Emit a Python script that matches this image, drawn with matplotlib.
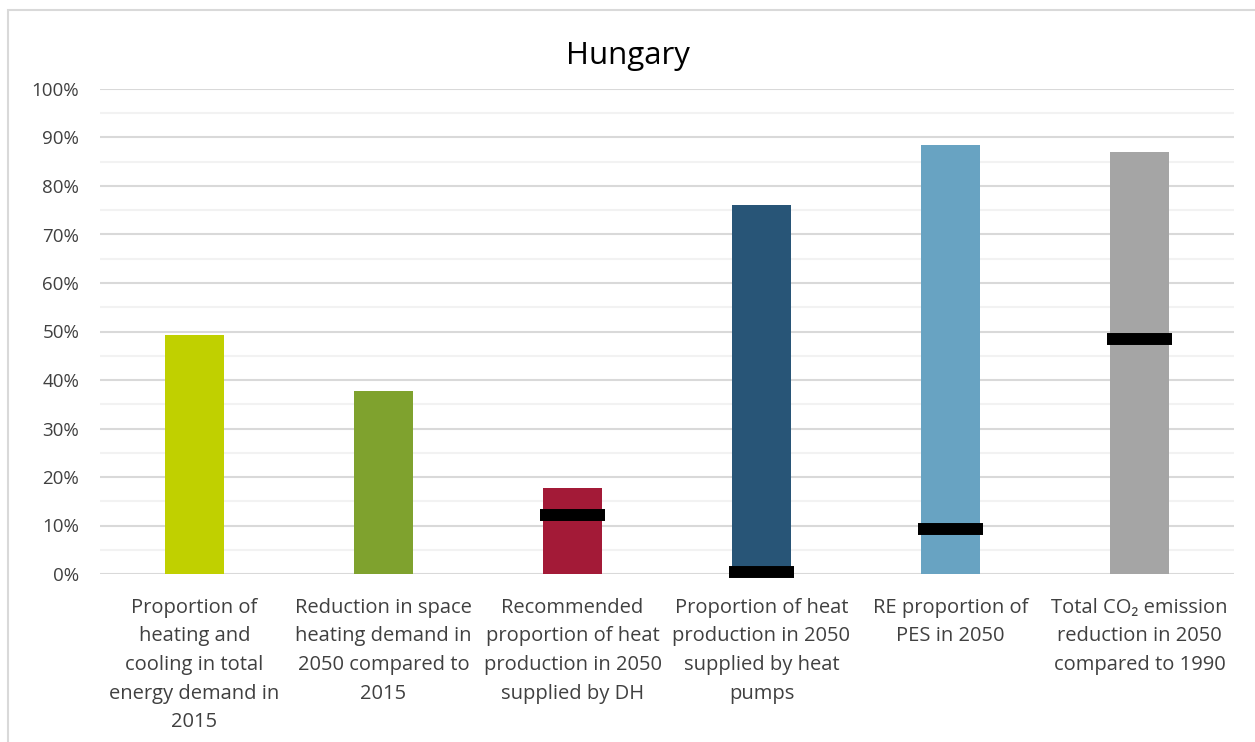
import numpy as np
import matplotlib.pyplot as plt
from matplotlib.patches import Rectangle

plt.rcParams['font.family'] = ['Open Sans', 'DejaVu Sans']

categories = [
    'Proportion of\nheating and\ncooling in total\nenergy demand in\n2015',
    'Reduction in space\nheating demand in\n2050 compared to\n2015',
    'Recommended\nproportion of heat\nproduction in 2050\nsupplied by DH',
    'Proportion of heat\nproduction in 2050\nsupplied by heat\npumps',
    'RE proportion of\nPES in 2050',
    'Total CO₂ emission\nreduction in 2050\ncompared to 1990',
]
values = [49.3, 37.7, 17.7, 76.1, 88.5, 87.0]
targets = [np.nan, np.nan, 12.2, 0.5, 9.3, 48.4]
colors = ['#C0D000', '#7FA22E', '#A31A37', '#285577', '#68A3C2', '#A5A5A5']

fig = plt.figure(figsize=(12.55, 7.42), dpi=100)
ax = fig.add_axes([100 / 1255, 1 - 574 / 742, 1134 / 1255, (574 - 89) / 742])

# chart frame (only left/top visible in the reference)
fig.patches.append(Rectangle((8 / 1255, -0.1), 1.2, 1 - 10 / 742 + 0.1,
                             transform=fig.transFigure, fill=False,
                             edgecolor='#D9D9D9', linewidth=1.5))

x = np.arange(len(categories))
ax.bar(x, values, width=0.31, color=colors, zorder=3)
t = np.array(targets)
ok = ~np.isnan(t)
ax.hlines(t[ok], x[ok] - 0.17, x[ok] + 0.17, colors='black', linewidth=8.6,
          zorder=4, clip_on=False)

ax.set_xlim(-0.5, len(categories) - 0.5)
ax.set_ylim(0, 100)
ax.set_yticks(np.arange(0, 101, 10))
ax.set_yticks(np.arange(5, 100, 10), minor=True)
ax.set_yticklabels([f'{v}%' for v in range(0, 101, 10)])
ax.grid(axis='y', which='major', color='#D9D9D9', linewidth=1.5, zorder=0)
ax.grid(axis='y', which='minor', color='#F2F2F2', linewidth=1.5, zorder=0)
ax.set_axisbelow(True)
for s in ax.spines.values():
    s.set_visible(False)
ax.tick_params(axis='y', which='both', length=0, pad=15, labelsize=13.5, labelcolor='#404040')
ax.tick_params(axis='x', length=0, pad=17)
ax.set_xticks(x)
ax.set_xticklabels(categories, fontsize=14.5, color='#404040', linespacing=1.58)

fig.text(0.5, 1 - 56 / 742, 'Hungary', ha='center', va='center', fontsize=22.5, color='black')

fig.savefig('out.png', dpi=100)
